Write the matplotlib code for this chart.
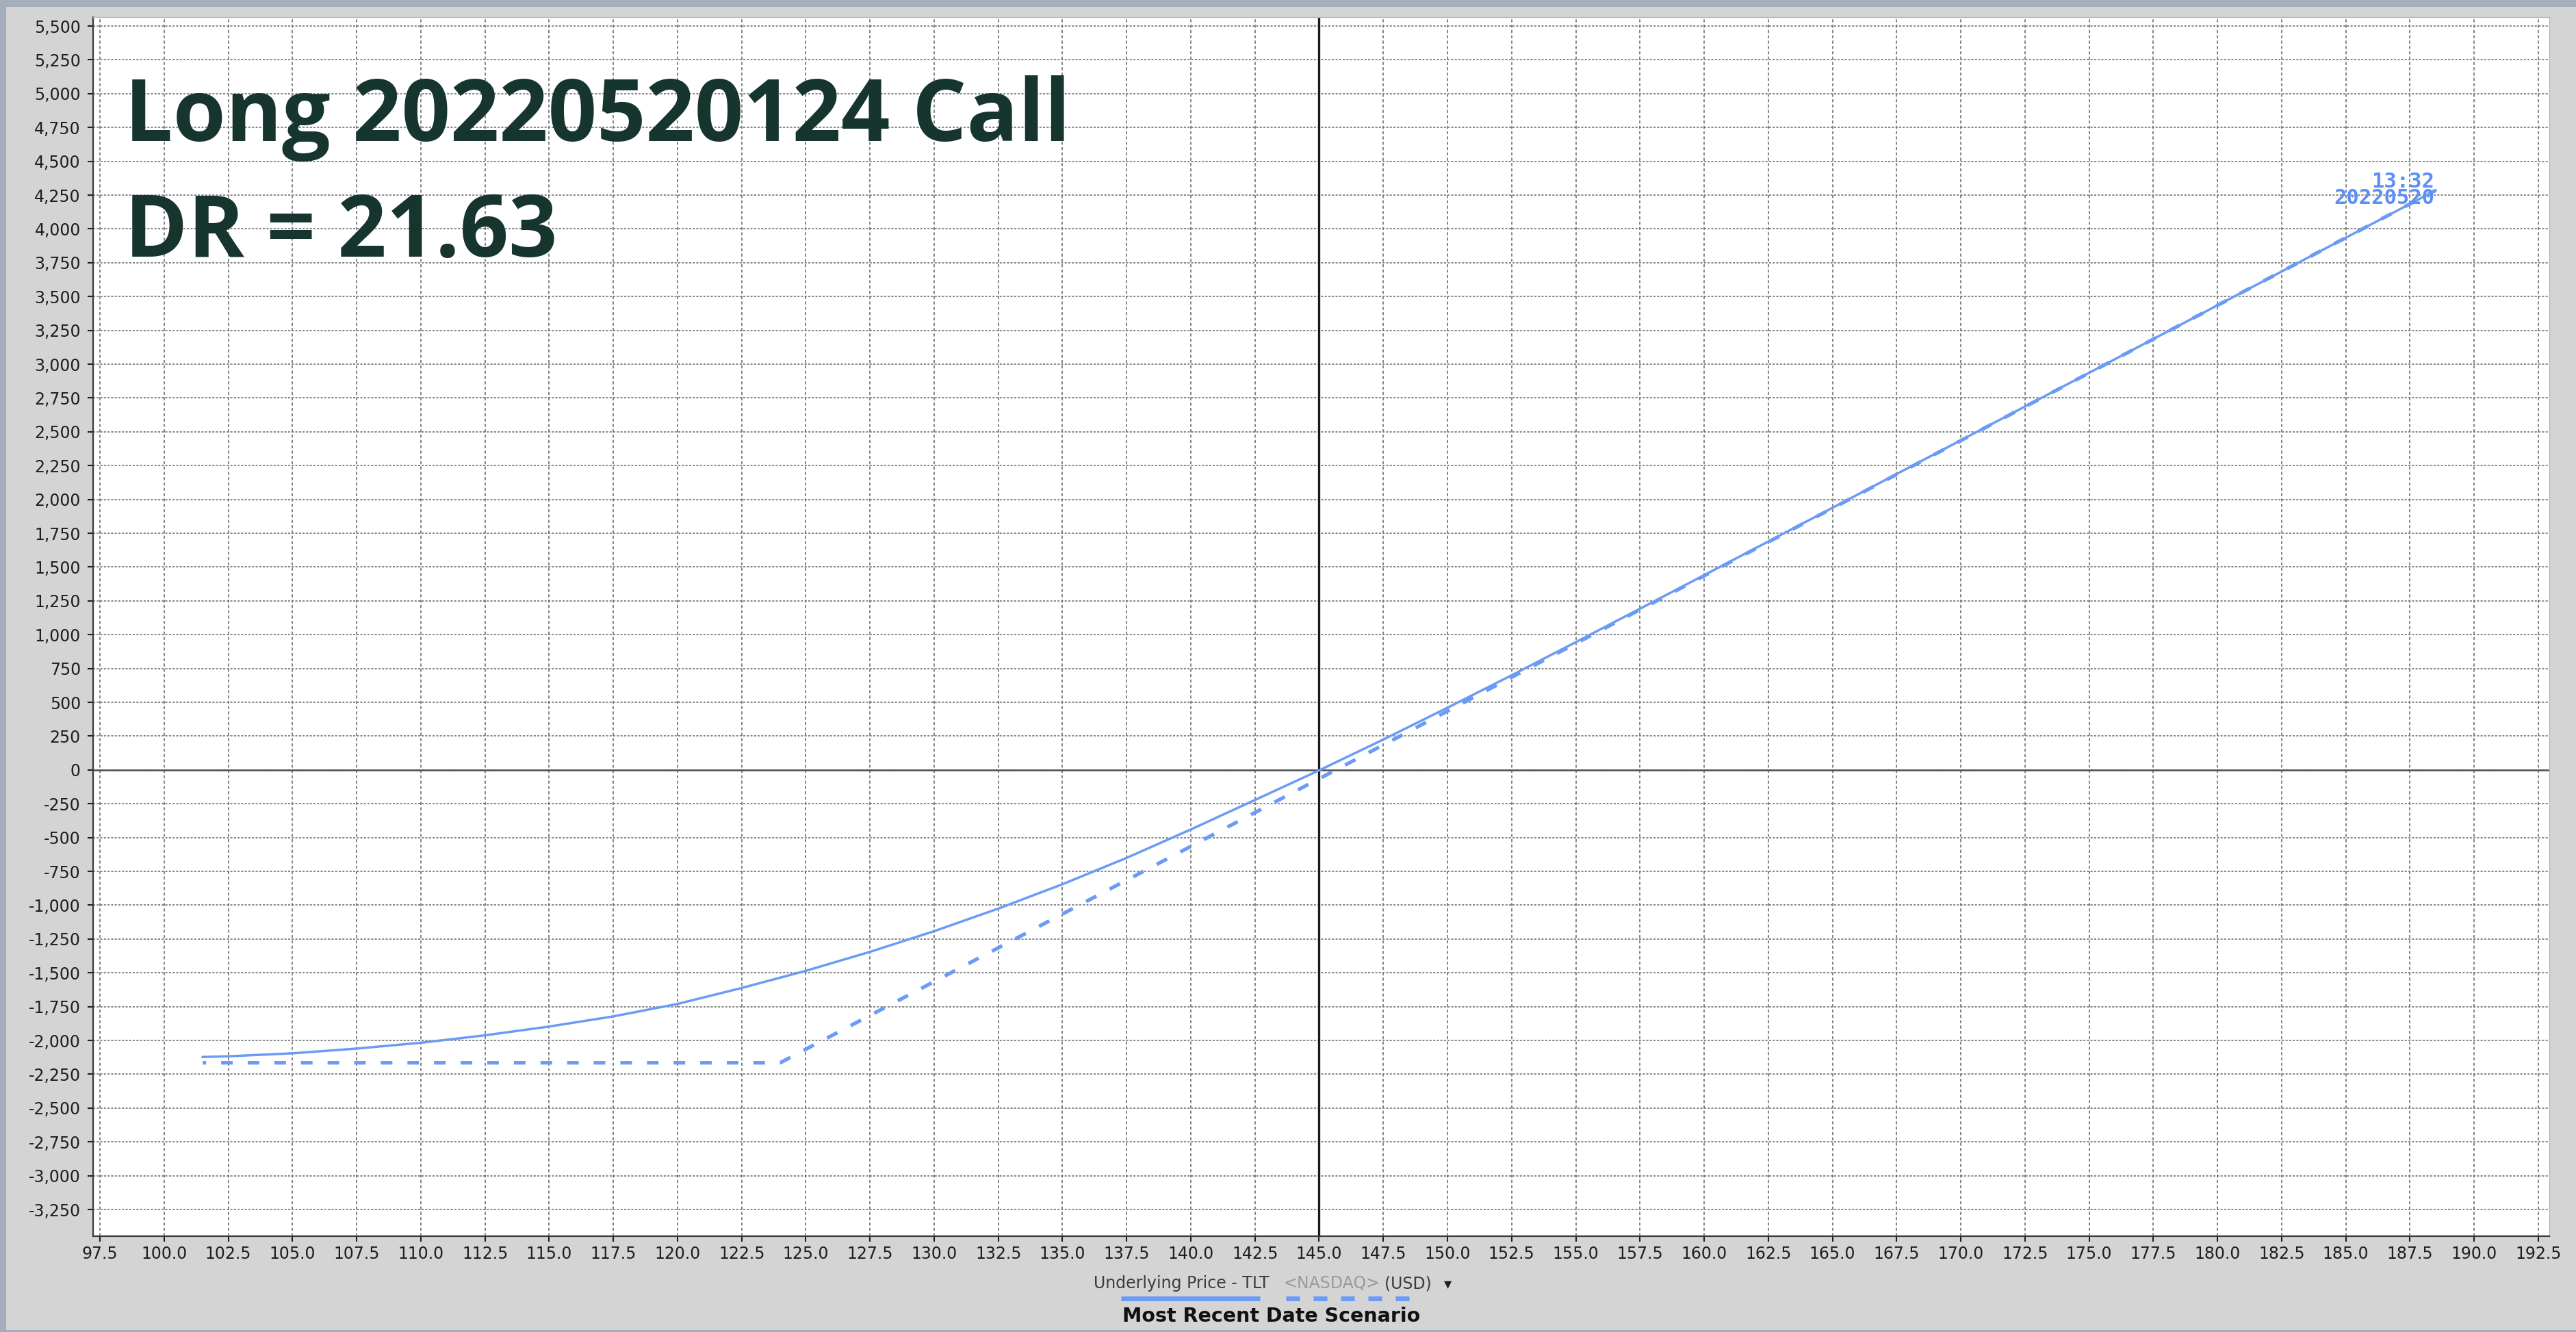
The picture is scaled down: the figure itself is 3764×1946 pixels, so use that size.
import numpy as np
import matplotlib.pyplot as plt
from matplotlib.lines import Line2D
from matplotlib.patches import Rectangle
from matplotlib.ticker import FuncFormatter, MultipleLocator

plt.rcParams['lines.scale_dashes'] = False

W, H = 3764, 1946

# --- data ---
# T+0 (today) curve
price_t0 = [101.5, 102.5, 105.0, 107.5, 110.0, 112.5, 115.0, 117.5, 120.0, 122.5,
            125.0, 127.5, 130.0, 132.5, 135.0, 137.5, 140.0, 142.5, 145.0, 147.5,
            150.0, 152.5, 155.0, 157.5, 160.0, 162.5, 165.0, 167.5, 170.0, 172.5,
            175.0, 177.5, 180.0, 182.5, 185.0, 187.5, 188.5]
pl_t0 = [-2122, -2117, -2095, -2060, -2017, -1962, -1897, -1822, -1730, -1612,
         -1485, -1345, -1192, -1025, -845, -650, -440, -222, -3, 225,
         460, 700, 945, 1192, 1440, 1689, 1938, 2188, 2437, 2687,
         2936, 3186, 3435, 3685, 3935, 4185, 4285]
# expiration curve
price_exp = [101.5, 124.0, 188.5]
pl_exp = [-2165, -2165, 4285]

current_price = 145.0
title_lines = ["Long 20220520124 Call", "DR = 21.63"]
end_label = "13:32\n20220520"

LINE_BLUE = '#6b9bf5'


def px(x, y):
    """pixel position (from top-left) -> figure fraction"""
    return x / W, 1 - y / H


fig = plt.figure(figsize=(W / 100, H / 100), dpi=100)
fig.patch.set_facecolor('#a5aebb')
fig.add_artist(Rectangle((9 / W, 3 / H), 1, (H - 13) / H, transform=fig.transFigure,
                         facecolor='#d4d4d4', edgecolor='none', zorder=0))

ax = fig.add_axes([136 / W, 1 - 1806 / H, (3725 - 136) / W, (1806 - 25) / H])
ax.set_facecolor('white')
ax.set_xlim(97.23, 192.93)
ax.set_ylim(-3447, 5566)

ax.xaxis.set_major_locator(MultipleLocator(2.5))
ax.yaxis.set_major_locator(MultipleLocator(250))
ax.xaxis.set_major_formatter(FuncFormatter(lambda v, p: f'{v:.1f}'))
ax.yaxis.set_major_formatter(FuncFormatter(lambda v, p: f'{v:,.0f}'))
ax.tick_params(axis='both', labelsize=17, colors='#1e1e1e', length=6, width=1.5)
ax.tick_params(axis='y', pad=7)
ax.tick_params(axis='x', pad=4)

ax.set_axisbelow(True)
ax.xaxis.grid(True, color='#707070', lw=1.2, linestyle=(0, (3.2, 2.4)))
ax.yaxis.grid(True, color='#707070', lw=1.2, linestyle=(0, (2.2, 1.6)))

for s in ['left', 'bottom']:
    ax.spines[s].set_color('#3a3a3a')
    ax.spines[s].set_linewidth(1.6)
for s in ['top', 'right']:
    ax.spines[s].set_color('#b5b5b5')
    ax.spines[s].set_linewidth(1.0)

ax.axhline(0, color='#505050', lw=1.8, zorder=2)
ax.axvline(current_price, color='#1a1a1a', lw=2.4, zorder=2)

ax.plot(price_t0, pl_t0, color=LINE_BLUE, lw=2.5, zorder=4)
ax.plot(price_exp, pl_exp, color=LINE_BLUE, lw=3.8, zorder=3,
        linestyle=(8.6, (12.2, 15.8)), dash_capstyle='butt')

ax.text(188.45, 4184, end_label, color='#5b8ef8', fontsize=22, fontweight='bold',
        family='DejaVu Sans Mono', ha='right', va='baseline', multialignment='right',
        linespacing=0.8, zorder=5)

# big title text
for txt, yb in zip(title_lines, [206, 375]):
    fig.text(*px(182, yb), txt, fontsize=90, fontweight='bold',
             family=['Open Sans', 'DejaVu Sans'], color='#17352f',
             va='baseline', ha='left')

# x axis caption + legend strip
fig.text(*px(1598, 1882), 'Underlying Price - TLT', fontsize=17, color='#3c3c3c',
         va='baseline', ha='left')
fig.text(*px(1876, 1882), '<NASDAQ>', fontsize=17, color='#9a9a9a',
         va='baseline', ha='left')
fig.text(*px(2023, 1882), '(USD)', fontsize=17, color='#3c3c3c',
         va='baseline', ha='left')
fig.text(*px(2116, 1882), '▾', fontsize=16, color='#1e1e1e',
         va='baseline', ha='center')

fig.add_artist(Line2D([1638 / W, 1841 / W], [1 - 1897 / H] * 2, transform=fig.transFigure,
                      color=LINE_BLUE, lw=5, solid_capstyle='butt'))
fig.add_artist(Line2D([1879 / W, 2060 / W], [1 - 1897 / H] * 2, transform=fig.transFigure,
                      color=LINE_BLUE, lw=5, linestyle=(0, (14.4, 14.4)),
                      dash_capstyle='butt'))

fig.text(*px(1858, 1931), 'Most Recent Date Scenario', fontsize=20.5, fontweight='bold',
         family='DejaVu Sans', color='#111111', va='baseline', ha='center')

fig.savefig('out.png', dpi=100, facecolor=fig.get_facecolor())
